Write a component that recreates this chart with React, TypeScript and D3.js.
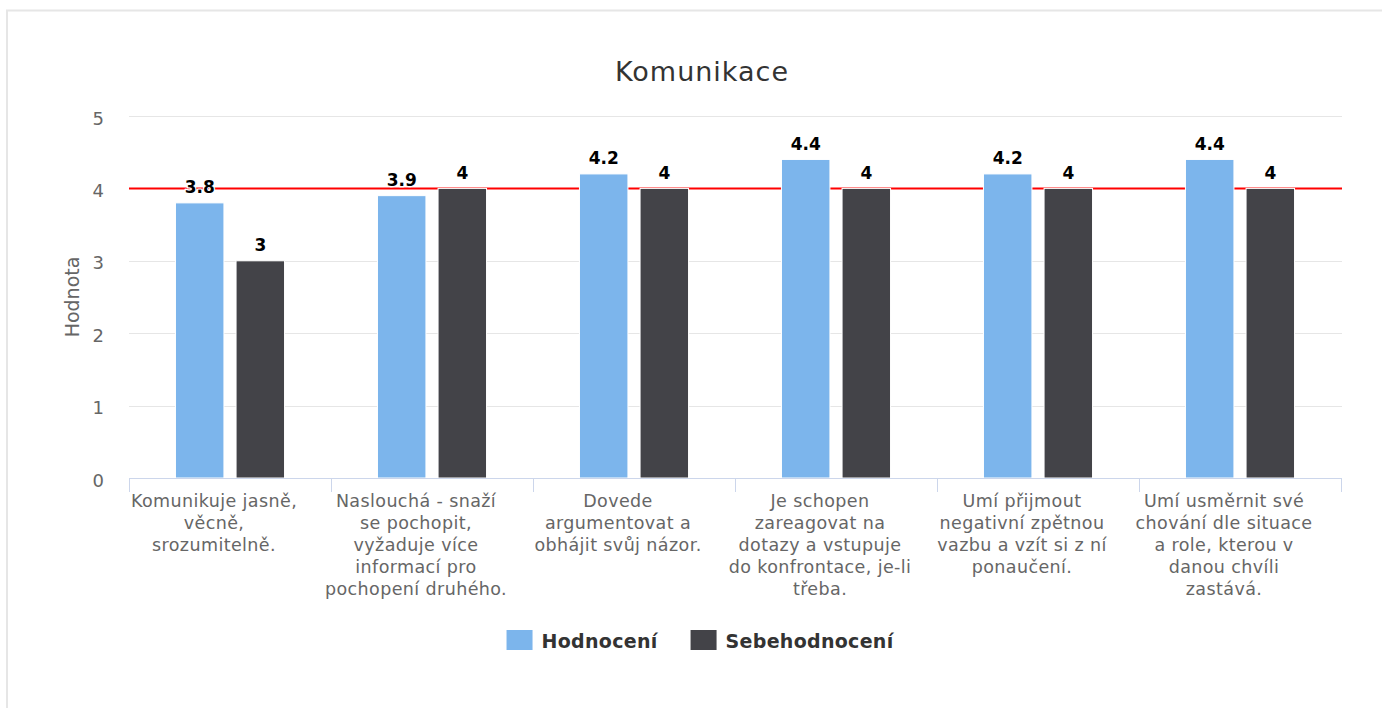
import React, { useEffect, useRef } from 'react';
import * as d3 from 'd3';

const categories: string[][] = [
  ['Komunikuje jasně,', 'věcně,', 'srozumitelně.'],
  ['Naslouchá - snaží', 'se pochopit,', 'vyžaduje více', 'informací pro', 'pochopení druhého.'],
  ['Dovede', 'argumentovat a', 'obhájit svůj názor.'],
  ['Je schopen', 'zareagovat na', 'dotazy a vstupuje', 'do konfrontace, je-li', 'třeba.'],
  ['Umí přijmout', 'negativní zpětnou', 'vazbu a vzít si z ní', 'ponaučení.'],
  ['Umí usměrnit své', 'chování dle situace', 'a role, kterou v', 'danou chvíli', 'zastává.'],
];
const seriesNames = ['Hodnocení', 'Sebehodnocení'];
const hodnoceni = [3.8, 3.9, 4.2, 4.4, 4.2, 4.4];
const sebehodnoceni = [3, 4, 4, 4, 4, 4];
const yTicks = [0, 1, 2, 3, 4, 5];
const targetValue = 4;

const colors = ['#7cb5ec', '#434348'];
const FONT = '"DejaVu Sans", Verdana, sans-serif';

const App: React.FC = () => {
  const svgRef = useRef<SVGSVGElement>(null);

  useEffect(() => {
    if (!svgRef.current) return;
    const svg = d3.select(svgRef.current);
    svg.selectAll('*').remove();

    const left = 129, right = 1341, top = 116, bottom = 478;
    const keys = categories.map((_, i) => String(i));
    const values = [hodnoceni, sebehodnoceni];

    const x = d3.scaleBand().domain(keys).range([left, right]);
    const bw = x.bandwidth();
    const x1 = d3.scaleBand()
      .domain(seriesNames)
      .range([0.2 * bw, 0.8 * bw])
      .paddingInner(0.2)
      .paddingOuter(0.1);
    const y = d3.scaleLinear().domain([0, 5]).range([bottom, top]);

    // outer border
    svg.append('rect')
      .attr('x', 7).attr('y', 10.5)
      .attr('width', 1420).attr('height', 800)
      .attr('fill', '#fff')
      .attr('stroke', '#e6e6e6').attr('stroke-width', 2);

    // title
    svg.append('text')
      .attr('x', 702).attr('y', 81)
      .attr('text-anchor', 'middle')
      .attr('font-family', FONT).attr('font-size', 27)
      .attr('letter-spacing', 1)
      .attr('fill', '#333333')
      .text('Komunikace');

    // grid
    svg.append('g').selectAll('line')
      .data(yTicks.filter(t => t > 0))
      .join('line')
      .attr('x1', left).attr('x2', right + 1)
      .attr('y1', d => Math.round(y(d)) + 0.5).attr('y2', d => Math.round(y(d)) + 0.5)
      .attr('stroke', '#e6e6e6').attr('stroke-width', 1);

    // y tick labels
    svg.append('g').selectAll('text')
      .data(yTicks)
      .join('text')
      .attr('x', 104).attr('y', d => y(d) + 8.5)
      .attr('text-anchor', 'end')
      .attr('font-family', FONT).attr('font-size', 18)
      .attr('fill', '#666666')
      .text(d => String(d));

    // y axis title
    svg.append('text')
      .attr('transform', `translate(79,${(top + bottom) / 2}) rotate(-90)`)
      .attr('text-anchor', 'middle')
      .attr('font-family', FONT).attr('font-size', 19)
      .attr('fill', '#666666')
      .text('Hodnota');

    // plot line at target
    svg.append('line')
      .attr('x1', left).attr('x2', right + 1)
      .attr('y1', y(targetValue)).attr('y2', y(targetValue))
      .attr('stroke', '#ff0000').attr('stroke-width', 2);

    // bars
    seriesNames.forEach((name, si) => {
      svg.append('g').selectAll('rect')
        .data(values[si])
        .join('rect')
        .attr('x', (_, i) => (x(keys[i]) as number) + (x1(name) as number))
        .attr('y', d => y(d))
        .attr('width', x1.bandwidth())
        .attr('height', d => bottom - y(d))
        .attr('fill', colors[si])
        .attr('stroke', '#ffffff').attr('stroke-width', 1);
    });

    // data labels
    seriesNames.forEach((name, si) => {
      svg.append('g').selectAll('text')
        .data(values[si])
        .join('text')
        .attr('x', (_, i) => (x(keys[i]) as number) + (x1(name) as number) + x1.bandwidth() / 2)
        .attr('y', d => y(d) - 9.5)
        .attr('text-anchor', 'middle')
        .attr('font-family', FONT).attr('font-size', 17).attr('font-weight', 'bold')
        .attr('fill', '#000000')
        .attr('stroke', '#ffffff').attr('stroke-width', 2.5)
        .attr('stroke-linejoin', 'round')
        .attr('paint-order', 'stroke')
        .text(d => String(d));
    });

    // x axis line + ticks
    svg.append('line')
      .attr('x1', left).attr('x2', right + 1)
      .attr('y1', bottom + 0.5).attr('y2', bottom + 0.5)
      .attr('stroke', '#ccd6eb').attr('stroke-width', 1);
    const bounds = keys.map(k => x(k) as number).concat([right]);
    svg.append('g').selectAll('line')
      .data(bounds)
      .join('line')
      .attr('x1', d => Math.round(d) + 0.5).attr('x2', d => Math.round(d) + 0.5)
      .attr('y1', bottom).attr('y2', bottom + 14)
      .attr('stroke', '#ccd6eb').attr('stroke-width', 1);

    // x labels (slightly left of band centre, as in the original)
    categories.forEach((lines, i) => {
      const cx = (x(keys[i]) as number) + bw / 2 - 16;
      const t = svg.append('text')
        .attr('text-anchor', 'middle')
        .attr('font-family', FONT).attr('font-size', 17.5)
        .attr('letter-spacing', 0.4)
        .attr('fill', '#666666');
      lines.forEach((ln, li) => {
        t.append('tspan').attr('x', cx).attr('y', 507 + li * 22).text(ln);
      });
    });

    // legend
    const legend = svg.append('g');
    const items: { g: any; w: number }[] = [];
    seriesNames.forEach((name, si) => {
      const g = legend.append('g');
      g.append('rect')
        .attr('x', 0).attr('y', 630)
        .attr('width', 26).attr('height', 20)
        .attr('fill', colors[si]);
      const txt = g.append('text')
        .attr('x', 35).attr('y', 648)
        .attr('font-family', FONT).attr('font-size', 19).attr('font-weight', 'bold')
        .attr('letter-spacing', 0.3)
        .attr('fill', '#333333')
        .text(name);
      const tw = (txt.node() as SVGTextElement).getComputedTextLength();
      items.push({ g, w: 35 + tw });
    });
    const gap = 33;
    const total = items.reduce((s, it) => s + it.w, 0) + gap * (items.length - 1);
    let cur = 700 - total / 2;
    items.forEach(it => {
      it.g.attr('transform', `translate(${cur},0)`);
      cur += it.w + gap;
    });
  }, []);

  return (
    <div style={{ position: 'fixed', left: 0, top: 0, width: 1382, height: 708, background: '#fff' }}>
      <svg ref={svgRef} width={1382} height={708} style={{ display: 'block' }}></svg>
    </div>
  );
};

export default App;
